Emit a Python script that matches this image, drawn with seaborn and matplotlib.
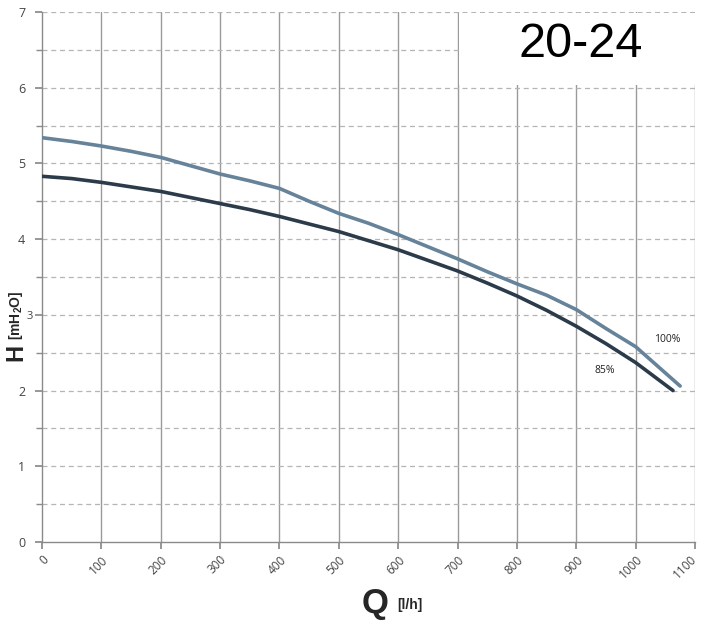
import numpy as np
import pandas as pd
import seaborn as sns
import matplotlib.pyplot as plt
import matplotlib.transforms as mtransforms
from matplotlib.patches import Rectangle

# pump curve 20-24, head vs flow at two speeds
q_100 = [0, 50, 100, 150, 200, 250, 300, 350, 400, 450, 500, 550, 600, 650, 700,
         750, 800, 850, 900, 950, 1000, 1075]
h_100 = [5.34, 5.29, 5.23, 5.16, 5.08, 4.97, 4.86, 4.77, 4.67, 4.50, 4.34, 4.21,
         4.06, 3.90, 3.74, 3.57, 3.41, 3.26, 3.07, 2.82, 2.58, 2.06]
q_85 = [0, 50, 100, 150, 200, 250, 300, 350, 400, 450, 500, 550, 600, 650, 700,
        750, 800, 850, 900, 950, 1000, 1063]
h_85 = [4.83, 4.80, 4.75, 4.69, 4.63, 4.55, 4.47, 4.39, 4.30, 4.20, 4.10, 3.98,
        3.86, 3.72, 3.58, 3.42, 3.25, 3.06, 2.85, 2.62, 2.37, 2.00]
x_ticks = list(range(0, 1101, 100))
y_ticks = list(range(0, 8))

df = pd.concat([
    pd.DataFrame({'Q': q_100, 'H': h_100, 'speed': '100%'}),
    pd.DataFrame({'Q': q_85, 'H': h_85, 'speed': '85%'}),
])

sns.set_theme(style="white")
plt.rcParams['font.family'] = ['Open Sans', 'DejaVu Sans']
plt.rcParams['mathtext.fontset'] = 'custom'
plt.rcParams['mathtext.bf'] = 'Liberation Sans:bold'
plt.rcParams['mathtext.rm'] = 'Liberation Sans'

fig = plt.figure(figsize=(7.01, 6.21), dpi=100)
ax = fig.add_axes([0.0599, 0.1272, 0.9315, 0.8535])

sns.lineplot(data=df, x='Q', y='H', hue='speed', sort=False, legend=False,
             palette={'100%': '#67839a', '85%': '#2c3b4a'}, lw=2.6, ax=ax, zorder=5)

ax.set_xlim(0, 1100)
ax.set_ylim(0, 7)
ax.set_xticks(x_ticks)
ax.set_yticks(y_ticks)
ax.set_yticks(np.arange(0.5, 7, 1), minor=True)

# grid: solid verticals, dashed horizontals every 0.5
for x in x_ticks[1:]:
    ax.axvline(x, color='#9a9a9a', lw=1.0, zorder=1)
for y in np.arange(0.5, 7.01, 0.5):
    ax.axhline(y, color='#b5b5b5', lw=0.9, ls=(0, (4, 3)), zorder=1)

for s in ['top', 'right']:
    ax.spines[s].set_visible(False)
for s in ['left', 'bottom']:
    ax.spines[s].set_color('#8a8a8a')
    ax.spines[s].set_linewidth(1.0)

ax.tick_params(axis='both', which='both', direction='out', length=5,
               color='#8a8a8a', labelcolor='#444444', labelsize=8.5)
ax.tick_params(axis='y', which='minor', length=4, left=True)
ax.tick_params(axis='x', bottom=True, pad=3)
ax.tick_params(axis='y', left=True, pad=7, labelsize=9)
xlabels = ax.get_xticklabels()
for lab in xlabels:
    lab.set_rotation(45)
    lab.set_ha('right')
    lab.set_va('top')
    lab.set_rotation_mode('anchor')
# nudge the last label so it stays inside the figure
xlabels[-1].set_transform(xlabels[-1].get_transform() +
                          mtransforms.ScaledTranslation(-5 / 100, 0, fig.dpi_scale_trans))
# the "3" sits closer to the axis, clear of the axis title
ylabels = ax.get_yticklabels()
ylabels[3].set_transform(ylabels[3].get_transform() +
                         mtransforms.ScaledTranslation(8 / 100, 0, fig.dpi_scale_trans))
ylabels[3].set_fontsize(8)

ax.set_xlabel('')
ax.set_ylabel('')

# title box
ax.add_patch(Rectangle((703, 6.03), 400, 0.95, facecolor='white', edgecolor='none',
                       zorder=3, clip_on=False))
ax.text(908, 6.57, '20-24', fontsize=35, family=['Liberation Sans', 'DejaVu Sans'],
        ha='center', va='center', color='black', zorder=6)

ax.text(1054, 2.68, '100%', fontsize=7.5, ha='center', va='center', color='#222222', zorder=6)
ax.text(948, 2.27, '85%', fontsize=7.5, ha='center', va='center', color='#222222', zorder=6)

# axis labels
fig.text(375 / 701, 1 - 604 / 621, 'Q', fontsize=25, fontweight='bold',
         family=['Liberation Sans', 'DejaVu Sans'], ha='center', va='center')
fig.text(397 / 701, 1 - 605 / 621, '[l/h]', fontsize=10, fontweight='bold',
         family=['Liberation Sans', 'DejaVu Sans'], ha='left', va='center')
fig.text(16 / 701, 1 - 352 / 621, 'H', fontsize=17, fontweight='bold', rotation=90,
         family=['Liberation Sans', 'DejaVu Sans'], ha='center', va='center')
fig.text(16 / 701, 1 - 340 / 621, r'$\mathbf{[mH_2O]}$', fontsize=10,
         rotation=90, ha='center', va='bottom')

fig.savefig('out.png', dpi=100)
